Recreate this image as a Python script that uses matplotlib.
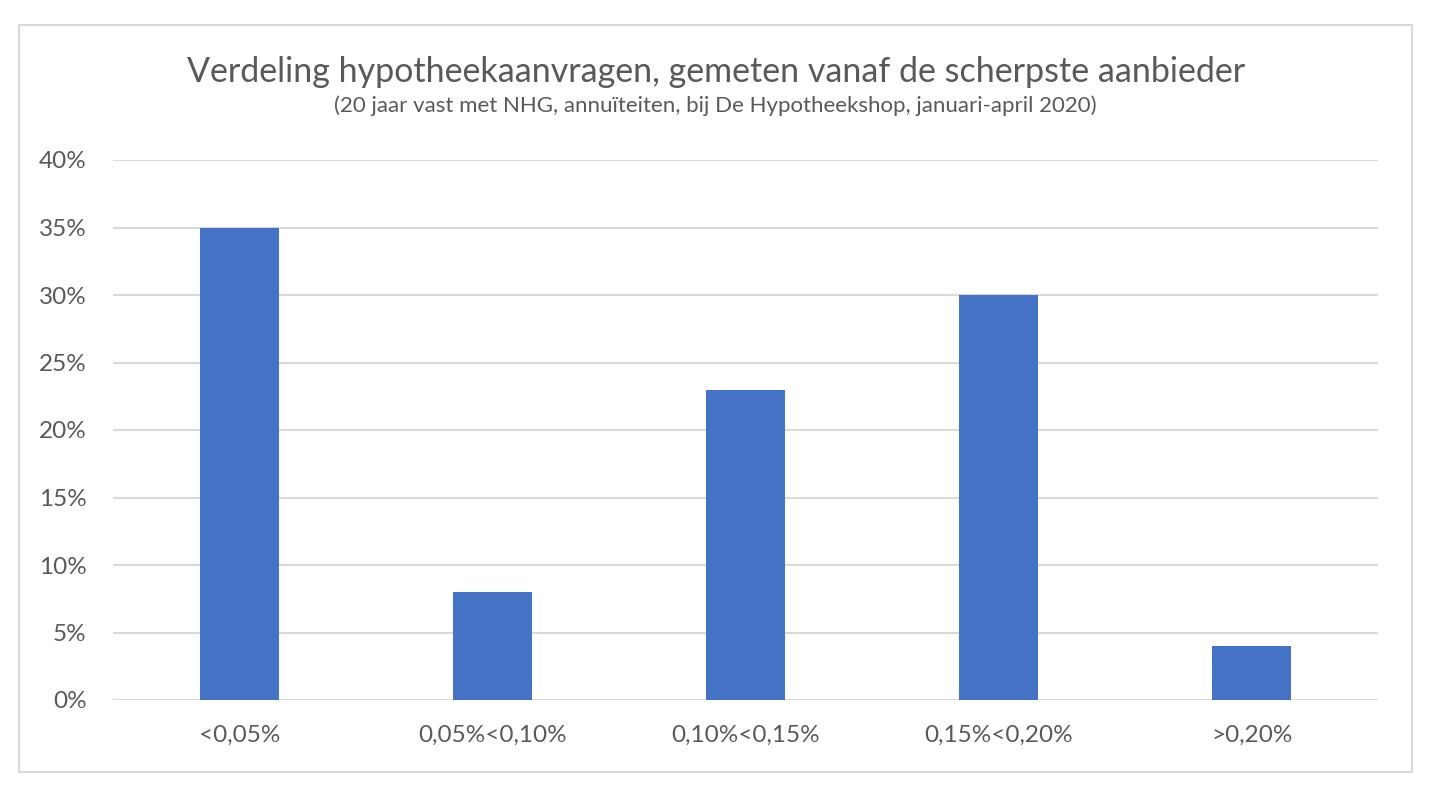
import matplotlib
matplotlib.use("Agg")
import matplotlib.pyplot as plt
from matplotlib.patches import Rectangle
from matplotlib.ticker import PercentFormatter

categories = ["<0,05%", "0,05%<0,10%", "0,10%<0,15%", "0,15%<0,20%", ">0,20%"]
shares = [35, 8, 23, 30, 4]
y_ticks = [0, 5, 10, 15, 20, 25, 30, 35, 40]

title = "Verdeling hypotheekaanvragen, gemeten vanaf de scherpste aanbieder"
subtitle = "(20 jaar vast met NHG, annuïteiten, bij De Hypotheekshop, januari-april 2020)"

BAR_COLOR = "#4472C4"
GRID_COLOR = "#D9D9D9"
TEXT_COLOR = "#595959"

plt.rcParams["font.family"] = ["Lato", "DejaVu Sans"]

W, H = 1440, 809
fig = plt.figure(figsize=(W / 100, H / 100), dpi=100)

# outer chart border
fig.patches.append(Rectangle((19 / W, 1 - 772 / H), (1412 - 19) / W, (772 - 25) / H,
                             transform=fig.transFigure, fill=False,
                             edgecolor=GRID_COLOR, linewidth=1.5))

ax = fig.add_axes([113 / W, 1 - 700 / H, (1378 - 113) / W, (700 - 160) / H])
x = range(len(categories))
ax.bar(x, shares, width=0.31, color=BAR_COLOR, zorder=3)
ax.set_xlim(-0.5, len(categories) - 0.5)
ax.set_ylim(0, 40)
ax.set_yticks(y_ticks)
ax.yaxis.set_major_formatter(PercentFormatter(decimals=0))
ax.set_xticks(list(x))
ax.set_xticklabels(categories)
ax.grid(axis="y", color=GRID_COLOR, linewidth=1.5, zorder=0)
for spine in ax.spines.values():
    spine.set_visible(False)
ax.tick_params(axis="both", length=0, colors=TEXT_COLOR, labelsize=17.5)
ax.tick_params(axis="x", pad=18)
ax.tick_params(axis="y", pad=19)

fig.text(0.497, 1 - 72 / H, title, ha="center", va="center", fontsize=24.5, color=TEXT_COLOR)
fig.text(0.497, 1 - 106 / H, subtitle, ha="center", va="center", fontsize=16, color=TEXT_COLOR)

fig.savefig("out.png", dpi=100, facecolor="white")
